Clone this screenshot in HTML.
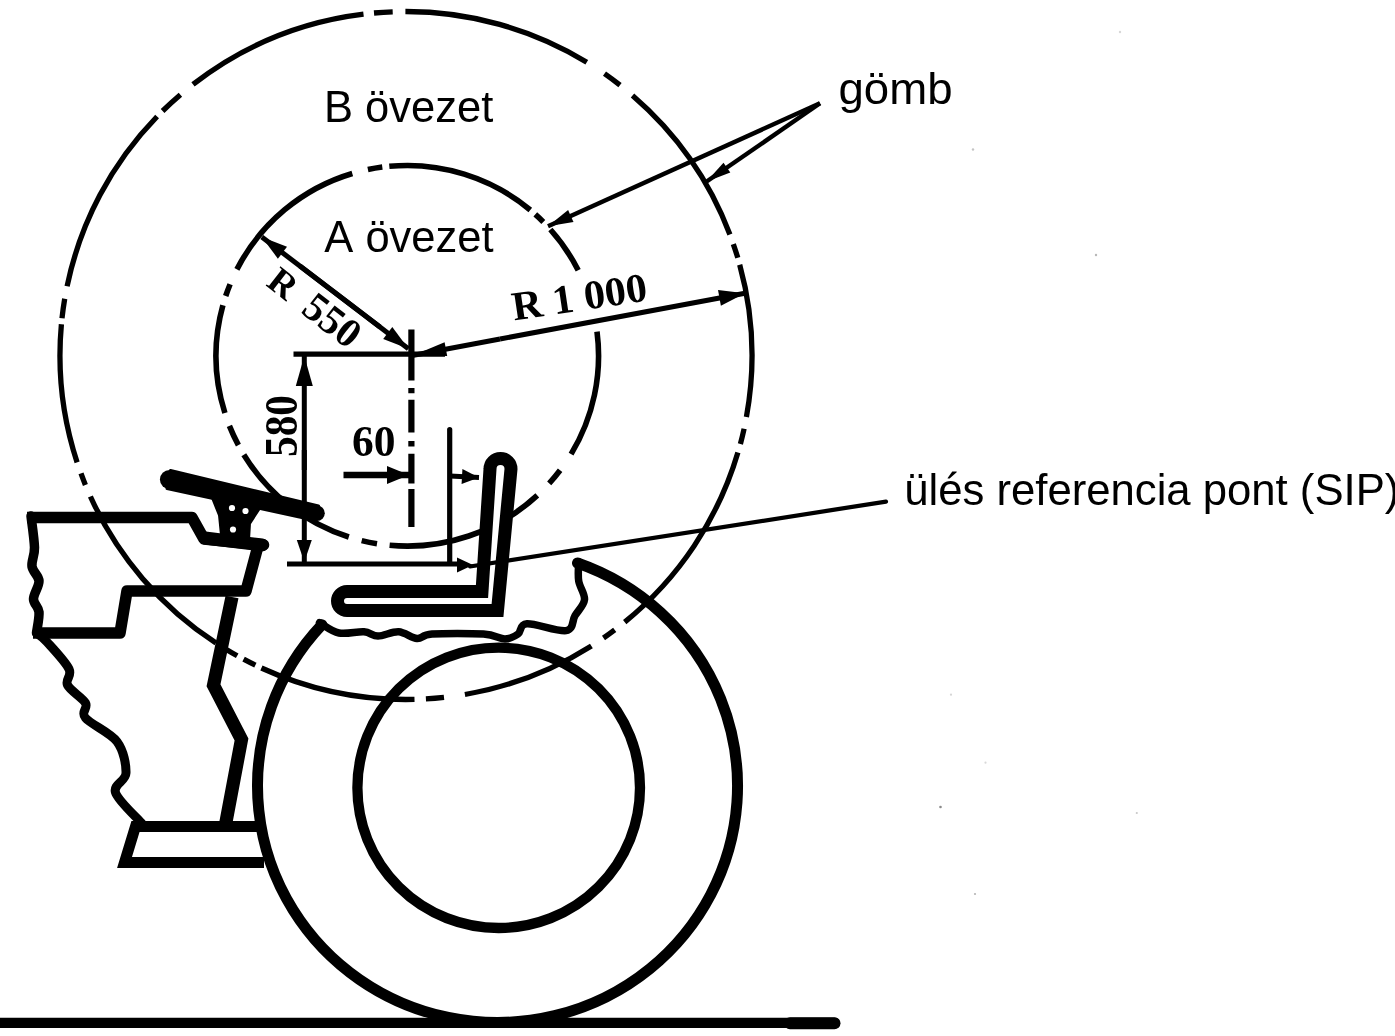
<!DOCTYPE html>
<html lang="hu"><head><meta charset="utf-8"><title>A és B övezet</title>
<style>html,body{margin:0;padding:0;background:#fff;}svg{display:block}</style></head>
<body><svg width="1395" height="1036" viewBox="0 0 1395 1036">
<defs><filter id="soft" x="0" y="0" width="100%" height="100%" filterUnits="userSpaceOnUse"><feGaussianBlur stdDeviation="0.65"/></filter></defs>
<rect width="1395" height="1036" fill="#fff"/>
<g filter="url(#soft)">
<path d="M746.4,417.0A346,344 0 0 0 739.7,264.7 M737.8,257.8A346,344 0 0 0 733.3,244.1 M729.9,234.5A346,344 0 0 0 632.5,95.5 M620.0,85.2A346,344 0 0 0 604.5,73.7 M586.8,62.2A346,344 0 0 0 405.4,11.5 M392.7,11.8A346,344 0 0 0 374.0,13.0 M363.5,14.1A346,344 0 0 0 193.0,84.4 M180.4,94.7A346,344 0 0 0 162.6,111.0 M157.1,116.5A346,344 0 0 0 67.1,286.3 M64.7,298.7A346,344 0 0 0 62.0,318.3 M61.4,324.3A346,344 0 0 0 77.1,462.4 M81.0,473.4A346,344 0 0 0 85.4,484.9 M90.4,496.5A346,344 0 0 0 216.0,643.0 M226.8,649.7A346,344 0 0 0 237.2,655.8 M243.6,659.2A346,344 0 0 0 255.4,665.2 M261.4,668.0A346,344 0 0 0 414.5,699.4 M425.9,698.9A346,344 0 0 0 444.0,697.4 M464.9,694.5A346,344 0 0 0 591.4,645.9 M603.5,638.0A346,344 0 0 0 614.7,629.9 M624.7,622.1A346,344 0 0 0 737.9,452.6 M740.4,444.0A346,344 0 0 0 744.1,428.8" fill="none" stroke="#000" stroke-width="5.3"/>
<path d="M571.1,454.1A191.3,190.3 0 0 0 597.0,331.6 M578.2,270.3A191.3,190.3 0 0 0 550.4,229.5 M543.3,221.9A191.3,190.3 0 0 0 535.3,214.4 M530.3,210.0A191.3,190.3 0 0 0 389.3,166.3 M382.3,167.1A191.3,190.3 0 0 0 367.9,169.6 M352.3,173.5A191.3,190.3 0 0 0 236.9,269.4 M230.1,284.2A191.3,190.3 0 0 0 225.7,296.0 M222.9,305.3A191.3,190.3 0 0 0 224.9,413.0 M229.4,425.9A191.3,190.3 0 0 0 238.4,445.1 M243.8,454.7A191.3,190.3 0 0 0 348.8,537.0 M361.7,540.6A191.3,190.3 0 0 0 377.0,543.7 M389.6,545.3A191.3,190.3 0 0 0 537.3,495.4 M549.2,483.4A191.3,190.3 0 0 0 560.1,470.3" fill="none" stroke="#000" stroke-width="5.6"/>
<path d="M321.9,624.8A240,236.5 0 1 0 577.5,563.0" fill="none" stroke="#000" stroke-width="11" stroke-linecap="round"/>
<ellipse cx="498.7" cy="787.8" rx="141.3" ry="140.2" fill="none" stroke="#000" stroke-width="10.3"/>
<path d="M0,1022.8H835" fill="none" stroke="#000" stroke-width="10.2" stroke-linecap="round"/>
<path d="M790,1023.3H834.5" fill="none" stroke="#000" stroke-width="12" stroke-linecap="round"/>
<path d="M319.5,622.6C322.8,624.3 331.6,631.5 339,633C346.4,634.5 357.5,631.3 364,631.8C370.5,632.3 372.2,636.0 378,636C383.8,636.0 392.1,631.4 398.6,631.8C405.1,632.2 411.4,638.2 417,638.6C422.6,639.0 420.9,634.8 432,634C443.1,633.2 471.3,633.2 483.5,634C495.7,634.8 499.2,639.0 505,639C510.8,639.0 514.3,636.5 518,634C521.7,631.5 519.0,624.3 527,623.7C535.0,623.1 558.0,631.9 566,630.6C574.0,629.3 571.9,620.9 575,615.7C578.1,610.5 583.9,605.4 584.5,599.6C585.1,593.8 579.7,587.3 578.7,581C577.7,574.7 578.7,565.0 578.7,561.8" fill="none" stroke="#000" stroke-width="7.5" stroke-linejoin="round" stroke-linecap="round"/>
<path d="M347,591.5 L482,591.5 L490,469 A10.5,10.5 0 0 1 511,469 L497.5,610.5 L347,610.5 A9.5,9.5 0 0 1 347,591.5 Z" fill="#fff" stroke="#000" stroke-width="13" stroke-linejoin="miter"/>
<path d="M33,633 L120,633 L127,591 L246,591 L258,546 L263.5,545 L204,539 L192,517.5 L27,517.5" fill="none" stroke="#000" stroke-width="11.5" stroke-linejoin="round" stroke-linecap="butt"/>
<path d="M31,516C31.6,521.2 34.3,539.1 34.5,547.5C34.7,555.9 31.2,560.9 32,566.5C32.8,572.1 38.8,575.6 39,581C39.2,586.4 33.5,593.8 33.5,599C33.5,604.2 38.5,606.3 39,612C39.5,617.7 36.9,629.5 36.5,633" fill="none" stroke="#000" stroke-width="9.5" stroke-linejoin="round" stroke-linecap="round"/>
<path d="M36.5,633C38.2,634.5 41.6,636.0 47,642C52.4,648.0 65.6,661.8 69,669C72.4,676.2 64.8,679.3 67.5,685C70.2,690.7 82.5,697.5 85.5,703C88.5,708.5 80.2,711.6 85.5,718C90.8,724.4 110.2,732.4 117,741.6C123.8,750.8 126.2,764.5 126,773C125.8,781.5 112.9,784.2 115.5,792.5C118.1,800.8 137.2,817.9 141.5,823" fill="none" stroke="#000" stroke-width="9" stroke-linejoin="round" stroke-linecap="round"/>
<path d="M232,597 L213.5,685.4 L241.5,739.5 L225.6,824" fill="none" stroke="#000" stroke-width="13.2" stroke-linejoin="miter"/>
<path d="M258,826.5 L135.5,826.5 L124.5,862.6 L264,862.6" fill="none" stroke="#000" stroke-width="11" stroke-linejoin="miter"/>
<path d="M170.5,470.5 L318.5,506 L315.5,520.5 L167,488.5 Z" fill="#000" stroke="#000" stroke-width="3" stroke-linejoin="round"/>
<circle cx="169.5" cy="479.5" r="9.6" fill="#000"/>
<circle cx="317" cy="513.3" r="7.8" fill="#000"/>
<path d="M211,490 L263,500 L248,523 L247,540 L223.5,540 L221,515 Z" fill="#000" stroke="#000" stroke-width="6" stroke-linejoin="round"/>
<path d="M205,538 L262,545" fill="none" stroke="#000" stroke-width="13" stroke-linecap="round"/>
<circle cx="232" cy="508" r="3.1" fill="#fff"/>
<circle cx="245.5" cy="511" r="3.1" fill="#fff"/>
<circle cx="233" cy="529.5" r="3.1" fill="#fff"/>
<path d="M411.4,329.5V380.5 M411.4,388V393.3 M411.4,399.7V432.6 M411.4,441V446.4 M411.4,453.8V483.6 M411.4,489V527" stroke="#000" stroke-width="6.2" fill="none"/>
<path d="M293.5,354.2H445" stroke="#000" stroke-width="5.2" fill="none"/>
<path d="M304.3,470L304.3,356" stroke="#000" stroke-width="5" fill="none"/><path d="M304.3,356.0L312.8,386.0L295.8,386.0Z" fill="#000"/>
<path d="M304.3,450L304.3,562" stroke="#000" stroke-width="5" fill="none"/><path d="M304.3,562.0L296.8,540.0L311.8,540.0Z" fill="#000"/>
<path d="M287,564H462" stroke="#000" stroke-width="5.2" fill="none"/>
<path d="M473,565 L457,557.5 L457,572.5Z" fill="#000"/>
<path d="M470,566.5 L886,501.6" stroke="#000" stroke-width="4.2" stroke-linecap="round" fill="none"/>
<path d="M343.5,475L409,475" stroke="#000" stroke-width="6.6" fill="none"/><path d="M409.0,475.0L387.0,484.0L387.0,466.0Z" fill="#000"/>
<path d="M449.7,429.5V562" stroke="#000" stroke-width="5.2" fill="none" stroke-linecap="round"/>
<path d="M450,476L479,477.5" stroke="#000" stroke-width="5" fill="none"/><path d="M479.0,477.5L461.6,484.1L462.4,469.1Z" fill="#000"/>
<path d="M300,266L408.4,348.7" stroke="#000" stroke-width="5" fill="none"/><path d="M408.4,348.7L383.2,338.9L392.3,327.0Z" fill="#000"/>
<path d="M380,327L261.8,237" stroke="#000" stroke-width="5" fill="none"/><path d="M261.8,237.0L287.0,246.8L277.9,258.7Z" fill="#000"/>
<path d="M500,339L745,293.2" stroke="#000" stroke-width="5" fill="none"/><path d="M745.0,293.2L720.9,305.8L718.0,290.1Z" fill="#000"/>
<path d="M500,339L413.5,355.2" stroke="#000" stroke-width="5" fill="none"/><path d="M413.5,355.2L444.6,342.2L447.2,356.0Z" fill="#000"/>
<path d="M820,103.3L706.3,181.8" stroke="#000" stroke-width="4.4" fill="none"/><path d="M706.3,181.8L723.5,162.7L730.3,172.5Z" fill="#000"/>
<path d="M820,103.3L548,226.3" stroke="#000" stroke-width="4.4" fill="none"/><path d="M548.0,226.3L568.1,210.1L573.5,221.9Z" fill="#000"/>
<circle cx="940.5" cy="807" r="1.3" fill="#8a8a8a"/>
<circle cx="975" cy="894" r="1.1" fill="#b5b5b5"/>
<circle cx="1136.8" cy="813" r="1.1" fill="#c8c8c8"/>
<circle cx="951" cy="694.7" r="1.1" fill="#d5d5d5"/>
<circle cx="985.5" cy="762.7" r="1.1" fill="#d8d8d8"/>
<circle cx="973" cy="149.5" r="1.2" fill="#c4c4c4"/>
<circle cx="1096" cy="255" r="1.2" fill="#b8b8b8"/>
<circle cx="1120" cy="32" r="1.2" fill="#d8d8d8"/>
<text x="324" y="121.5" font-family="Liberation Sans, Arial, sans-serif" font-size="43.5">B övezet</text>
<text x="324.3" y="251.8" font-family="Liberation Sans, Arial, sans-serif" font-size="43.5" style="font-kerning:none">A övezet</text>
<text x="838.5" y="103.7" font-family="Liberation Sans, Arial, sans-serif" font-size="44.5" textLength="114" lengthAdjust="spacingAndGlyphs">gömb</text>
<text x="904.3" y="505.3" font-family="Liberation Sans, Arial, sans-serif" font-size="43.5" textLength="495" lengthAdjust="spacingAndGlyphs">ülés referencia pont (SIP)</text>
<text transform="translate(514,320.5) rotate(-8.5)" font-family="Liberation Serif, Times New Roman, serif" font-weight="bold" font-size="41" textLength="136" lengthAdjust="spacingAndGlyphs">R 1 000</text>
<text transform="translate(265,285) rotate(38)" font-family="Liberation Serif, Times New Roman, serif" font-weight="bold" font-size="41"><tspan font-size="37">R</tspan><tspan dx="7"> 550</tspan></text>
<text transform="translate(296.5,457) rotate(-90)" font-family="Liberation Serif, Times New Roman, serif" font-weight="bold" font-size="46" textLength="62" lengthAdjust="spacingAndGlyphs">580</text>
<text x="352" y="455.5" font-family="Liberation Serif, Times New Roman, serif" font-weight="bold" font-size="43.5" textLength="43.5" lengthAdjust="spacingAndGlyphs">60</text>
</g>
</svg></body></html>
